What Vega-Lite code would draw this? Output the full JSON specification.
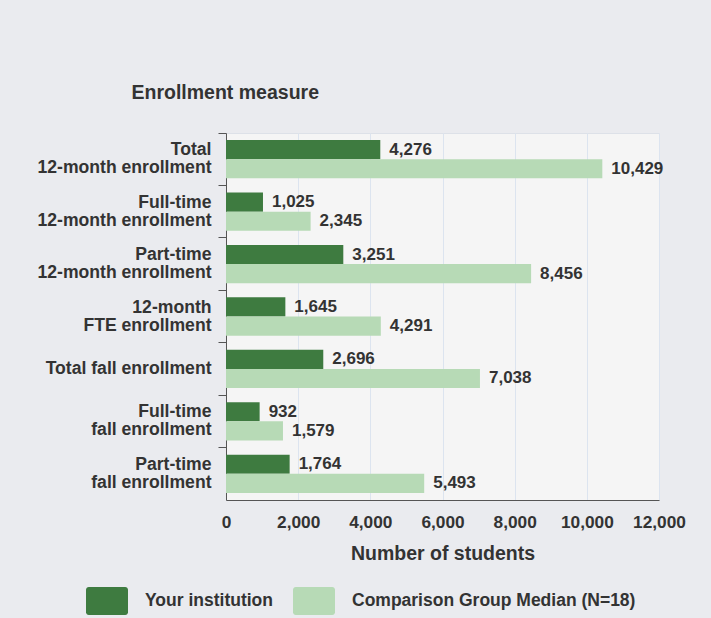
{
  "$schema": "https://vega.github.io/schema/vega-lite/v6.json",
  "width": 433,
  "height": 367,
  "autosize": {"type": "none"},
  "padding": {"left": 226, "top": 133, "right": 52, "bottom": 118},
  "background": "#eaebef",
  "config": {
    "font": "Liberation Sans",
    "view": {"fill": "#f5f5f5", "stroke": "#dde1e8"},
    "axis": {"labelColor": "#333333", "titleColor": "#333333", "labelFont": "Liberation Sans", "titleFont": "Liberation Sans", "labelFontWeight": "bold", "titleFontWeight": "bold"},
    "legend": {"labelColor": "#333333", "labelFont": "Liberation Sans", "labelFontWeight": "bold"}
  },
  "data": {
    "values": [
      {"measure": "Total|12-month enrollment", "group": "Your institution", "value": 4276},
      {"measure": "Total|12-month enrollment", "group": "Comparison Group Median (N=18)", "value": 10429},
      {"measure": "Full-time|12-month enrollment", "group": "Your institution", "value": 1025},
      {"measure": "Full-time|12-month enrollment", "group": "Comparison Group Median (N=18)", "value": 2345},
      {"measure": "Part-time|12-month enrollment", "group": "Your institution", "value": 3251},
      {"measure": "Part-time|12-month enrollment", "group": "Comparison Group Median (N=18)", "value": 8456},
      {"measure": "12-month|FTE enrollment", "group": "Your institution", "value": 1645},
      {"measure": "12-month|FTE enrollment", "group": "Comparison Group Median (N=18)", "value": 4291},
      {"measure": "Total fall enrollment", "group": "Your institution", "value": 2696},
      {"measure": "Total fall enrollment", "group": "Comparison Group Median (N=18)", "value": 7038},
      {"measure": "Full-time|fall enrollment", "group": "Your institution", "value": 932},
      {"measure": "Full-time|fall enrollment", "group": "Comparison Group Median (N=18)", "value": 1579},
      {"measure": "Part-time|fall enrollment", "group": "Your institution", "value": 1764},
      {"measure": "Part-time|fall enrollment", "group": "Comparison Group Median (N=18)", "value": 5493}
    ]
  },
  "encoding": {
    "y": {
      "field": "measure",
      "type": "nominal",
      "sort": null,
      "scale": {"paddingInner": 0, "paddingOuter": 0},
      "axis": {
        "title": "Enrollment measure",
        "titleAngle": 0,
        "titleX": -95,
        "titleY": -41,
        "titleAlign": "left",
        "titleBaseline": "middle",
        "titleFontSize": 19.5,
        "labelFontSize": 17.6,
        "labelLineHeight": 18,
        "labelExpr": "split(datum.label, '|')",
        "labelOffset": {"condition": {"test": "indexof(datum.value, '|') >= 0", "value": -9}, "value": 0},
        "bandPosition": 0,
        "tickSize": 8,
        "tickColor": "#555555",
        "domainColor": "#555555",
        "labelPadding": 7,
        "labelLimit": 300,
        "grid": false
      }
    },
    "yOffset": {
      "field": "group",
      "type": "nominal",
      "sort": ["Your institution", "Comparison Group Median (N=18)"],
      "scale": {"paddingOuter": 0.37, "paddingInner": 0}
    },
    "x": {
      "field": "value",
      "type": "quantitative",
      "scale": {"domain": [0, 12000], "nice": false},
      "axis": {
        "title": "Number of students",
        "titleFontSize": 19.5,
        "titlePadding": 14,
        "labelFontSize": 17.3,
        "values": [0, 2000, 4000, 6000, 8000, 10000, 12000],
        "format": ",.0f",
        "labelOverlap": false,
        "labelFlush": false,
        "labelBound": false,
        "ticks": false,
        "labelPadding": 13,
        "domainColor": "#555555",
        "gridColor": "#dce4ef"
      }
    }
  },
  "layer": [
    {
      "mark": {"type": "bar"},
      "encoding": {
        "color": {
          "field": "group",
          "type": "nominal",
          "sort": ["Your institution", "Comparison Group Median (N=18)"],
          "scale": {"domain": ["Your institution", "Comparison Group Median (N=18)"], "range": ["#3e7b40", "#b7dab6"]},
          "legend": {
            "title": null,
            "orient": "none",
            "legendX": -133,
            "legendY": 454,
            "direction": "horizontal",
            "symbolType": "M-1.3,-1 H1.3 A0.2,0.2 0 0 1 1.5,-0.8 V0.8 A0.2,0.2 0 0 1 1.3,1 H-1.3 A0.2,0.2 0 0 1 -1.5,0.8 V-0.8 A0.2,0.2 0 0 1 -1.3,-1 Z",
            "symbolSize": 784,
            "symbolStrokeWidth": 0,
            "symbolOpacity": 1,
            "labelFontSize": 17.5,
            "labelLimit": 400,
            "labelOffset": 24,
            "columnPadding": 20
          }
        }
      }
    },
    {
      "mark": {"type": "text", "align": "left", "baseline": "middle", "dx": 9, "fontSize": 17, "fontWeight": "bold", "color": "#333333", "font": "Liberation Sans"},
      "encoding": {"text": {"field": "value", "type": "quantitative", "format": ",.0f"}}
    }
  ]
}
